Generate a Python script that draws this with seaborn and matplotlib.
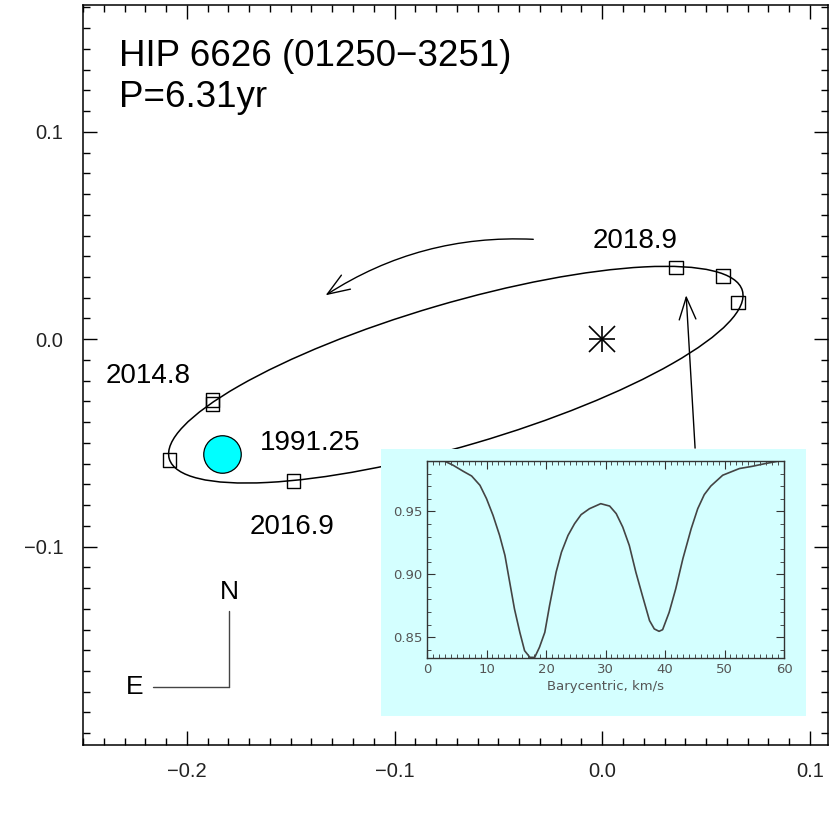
import numpy as np
import matplotlib
matplotlib.use('Agg')
import matplotlib.pyplot as plt
from matplotlib.patches import Ellipse, FancyArrowPatch
from matplotlib.ticker import MultipleLocator, FormatStrFormatter, FuncFormatter
import seaborn as sns

sns.set_style('ticks')
plt.rcParams['font.family'] = ['Liberation Sans', 'DejaVu Sans']
plt.rcParams['text.color'] = 'k'

# measured positions (arcsec)
obs_x = [-0.2083, -0.1876, -0.1876, -0.1486, 0.0356, 0.0582, 0.0654]
obs_y = [-0.0583, -0.0294, -0.0313, -0.0684, 0.0347, 0.0304, 0.0178]
# Hipparcos position 1991.25
hip_x = [-0.1833]
hip_y = [-0.0554]
# projected orbit: centre, semi-axes, tilt (deg)
orb_center = (-0.0705, -0.0171)
orb_axes = (0.1438, 0.0343)
orb_angle = 16.4

epoch_labels = ['2018.9', '2014.8', '1991.25', '2016.9']
epoch_x = [-0.0048, -0.2391, -0.1650, -0.1698]
epoch_y = [0.0439, -0.0209, -0.0532, -0.0940]

# CCF profile for the inset
vel = [0, 3.0, 4.4, 6.1, 7.5, 8.9, 10.0, 11.1, 12.2, 13.1, 13.9, 14.7, 15.6, 16.4,
       17.3, 18.1, 18.9, 19.8, 20.6, 21.7, 22.6, 23.7, 24.8, 25.9, 27.3, 29.2,
       30.7, 31.8, 32.9, 34.0, 35.1, 36.2, 37.4, 38.2, 39.0, 39.6, 40.7, 41.8,
       43.0, 44.4, 45.5, 46.6, 47.7, 49.7, 52.5, 54.7, 56.9, 59.2, 60]
flux = [0.9898, 0.9898, 0.9866, 0.9818, 0.9781, 0.9707, 0.9601, 0.9468, 0.9309,
        0.9150, 0.8937, 0.8725, 0.8539, 0.8393, 0.8340, 0.8340, 0.8420, 0.8539,
        0.8752, 0.9017, 0.9176, 0.9309, 0.9402, 0.9474, 0.9521, 0.9561, 0.9542,
        0.9482, 0.9375, 0.9229, 0.9017, 0.8831, 0.8632, 0.8566, 0.8547, 0.8560,
        0.8698, 0.8884, 0.9123, 0.9362, 0.9521, 0.9633, 0.9701, 0.9787, 0.9840,
        0.9858, 0.9880, 0.9900, 0.9905]

W = 830.0
fig = plt.figure(figsize=(8.3, 8.3), dpi=100)
ax = fig.add_axes([83 / W, 85 / W, 745 / W, 740 / W])

ax.add_patch(Ellipse(orb_center, 2 * orb_axes[0], 2 * orb_axes[1], angle=orb_angle,
                     fill=False, ec='k', lw=1.1, zorder=2))
sns.scatterplot(x=obs_x, y=obs_y, marker='s', s=95, facecolor='none',
                edgecolor='k', linewidth=1.0, ax=ax, zorder=3)
sns.scatterplot(x=hip_x, y=hip_y, marker='o', s=27 ** 2, color='#00ffff',
                edgecolor='k', linewidth=0.9, ax=ax, zorder=3)
ax.plot([0], [0], marker='+', ms=19, mew=1.2, color='k', ls='none')
ax.plot([0], [0], marker='x', ms=19, mew=1.2, color='k', ls='none')

for lab, x, y in zip(epoch_labels, epoch_x, epoch_y):
    ax.text(x, y, lab, fontsize=20, ha='left', va='baseline', color='k')

ax.text(-0.2328, 0.1320, 'HIP 6626 (01250\u22123251)', fontsize=26.5, va='baseline',
        color='k')
ax.text(-0.2328, 0.1120, 'P=6.31yr', fontsize=26.5, va='baseline', color='k')

# direction of motion and pointer to the inset
ax.add_patch(FancyArrowPatch((-0.0332, 0.0482), (-0.1332, 0.0212),
                             connectionstyle='arc3,rad=0.16',
                             arrowstyle='->,head_length=0.8,head_width=0.3',
                             mutation_scale=20, lw=1.0, color='k',
                             shrinkA=0, shrinkB=0))
ax.add_patch(FancyArrowPatch((0.0447, -0.0525), (0.0404, 0.0212),
                             arrowstyle='->,head_length=0.8,head_width=0.3',
                             mutation_scale=20, lw=1.0, color='k',
                             shrinkA=0, shrinkB=0))

# N-E compass
ax.plot([-0.1796, -0.1796], [-0.1309, -0.1676], color='#444', lw=1.0)
ax.plot([-0.2161, -0.1796], [-0.1676, -0.1676], color='#444', lw=1.0)
ax.text(-0.1794, -0.1219, 'N', fontsize=19, ha='center', va='center', color='k')
ax.text(-0.2251, -0.1677, 'E', fontsize=19, ha='center', va='center', color='k')

minus_fmt = FuncFormatter(lambda v, p: ('%.1f' % v).replace('-', '\u2212')
                          if abs(v) > 1e-9 else '0.0')
ax.set_xlim(-0.25, 0.1087)
ax.set_ylim(-0.1957, 0.1612)
ax.xaxis.set_major_locator(MultipleLocator(0.1))
ax.xaxis.set_minor_locator(MultipleLocator(0.01))
ax.yaxis.set_major_locator(MultipleLocator(0.1))
ax.yaxis.set_minor_locator(MultipleLocator(0.01))
ax.xaxis.set_major_formatter(minus_fmt)
ax.yaxis.set_major_formatter(minus_fmt)
ax.tick_params(which='both', direction='in', top=True, right=True, width=1.0,
               color='k', labelsize=14.5, labelcolor='#222')
ax.tick_params(which='major', length=10)
ax.tick_params(which='minor', length=5)
ax.tick_params(axis='x', pad=12)
ax.tick_params(axis='y', pad=14)
for s in ax.spines.values():
    s.set_linewidth(1.1)
    s.set_color('k')

# inset background and CCF plot
bg = fig.add_axes([381 / W, (W - 716) / W, 425 / W, 267 / W], zorder=2)
bg.set_facecolor('#d4ffff')
bg.set_xticks([])
bg.set_yticks([])
for s in bg.spines.values():
    s.set_visible(False)

ins = fig.add_axes([427 / W, (W - 658) / W, 357 / W, 197 / W], zorder=3)
ins.set_facecolor('none')
sns.lineplot(x=vel, y=flux, ax=ins, color='#444', lw=1.2)
ins.set_xlim(0, 60)
ins.set_ylim(0.8335, 0.990)
ins.xaxis.set_major_locator(MultipleLocator(10))
ins.xaxis.set_minor_locator(MultipleLocator(1))
ins.yaxis.set_major_locator(MultipleLocator(0.05))
ins.yaxis.set_minor_locator(MultipleLocator(0.01))
ins.yaxis.set_major_formatter(FormatStrFormatter('%.2f'))
ins.tick_params(which='both', direction='in', top=True, right=True, color='#333',
                labelcolor='#555', labelsize=9.5)
ins.tick_params(which='major', length=6)
ins.tick_params(which='minor', length=3)
for lab in ins.get_xticklabels() + ins.get_yticklabels():
    lab.set_family('DejaVu Sans')
ins.set_xlabel('Barycentric, km/s', fontsize=9.5, color='#555', family='DejaVu Sans',
               labelpad=3)
for s in ins.spines.values():
    s.set_color('#333')
    s.set_linewidth(1.0)

fig.savefig('out.png', dpi=100)
